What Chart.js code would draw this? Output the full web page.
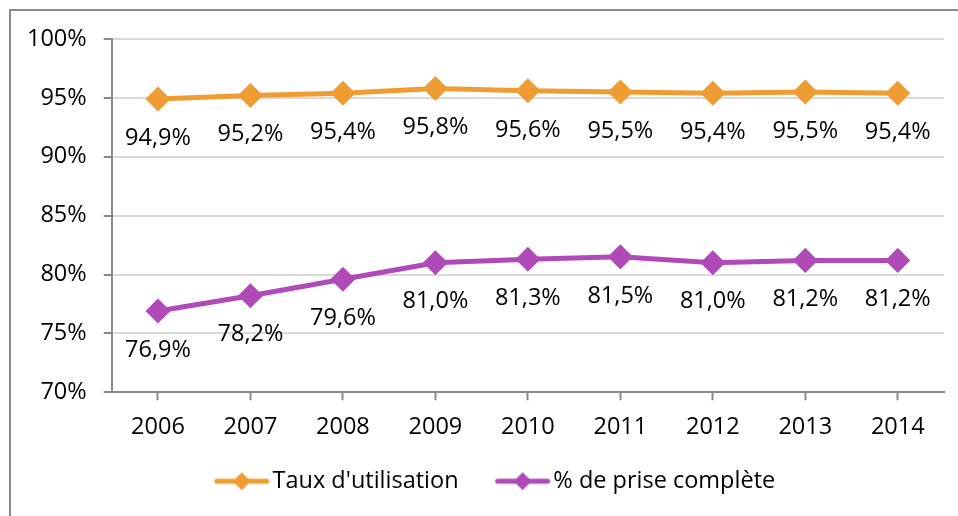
<!DOCTYPE html>
<html>
<head>
<meta charset="utf-8">
<script src="https://cdn.jsdelivr.net/npm/chart.js@4/dist/chart.umd.min.js"></script>
<style>
  html, body { margin: 0; padding: 0; background: #fff; overflow: hidden; }
  #frame { position: absolute; left: 9px; top: 9px; width: 1200px; height: 800px; border: 2px solid #8a8a8a; }
  #wrap { position: absolute; left: 0; top: 0; width: 958px; height: 516px; }
</style>
</head>
<body>
<div id="frame"></div>
<div id="wrap"><canvas id="c"></canvas></div>
<script>
// values
const years = ['2006', '2007', '2008', '2009', '2010', '2011', '2012', '2013', '2014'];
const tauxUtilisation = [94.9, 95.2, 95.4, 95.8, 95.6, 95.5, 95.4, 95.5, 95.4];
const priseComplete = [76.9, 78.2, 79.6, 81.0, 81.3, 81.5, 81.0, 81.2, 81.2];
const seriesNames = ["Taux d'utilisation", '% de prise complète'];

const ORANGE = '#ef9d33';
const PURPLE = '#b04ab8';
const FONT = "'Open Sans', 'Noto Sans', sans-serif";
const FSIZE = 23.5;

// legend swatch: line with a diamond in the middle
// canvas is wider than the legend box so the line can sit next to the text
function swatch(color) {
    const cv = document.createElement('canvas');
    cv.width = 100; cv.height = 20;
    const g = cv.getContext('2d');
    g.strokeStyle = color;
    g.lineWidth = 5;
    g.lineCap = 'round';
    g.beginPath(); g.moveTo(40, 10); g.lineTo(90, 10); g.stroke();
    g.fillStyle = color;
    g.beginPath();
    g.moveTo(65, 1); g.lineTo(74, 10); g.lineTo(65, 19); g.lineTo(56, 10);
    g.closePath(); g.fill();
    return cv;
}

// value labels under each point
const pointLabels = {
    id: 'pointLabels',
    afterDatasetsDraw(chart) {
        const ctx = chart.ctx;
        ctx.save();
        ctx.font = FSIZE + 'px ' + FONT;
        ctx.fillStyle = '#000';
        ctx.textAlign = 'center';
        ctx.textBaseline = 'middle';
        chart.data.datasets.forEach((ds, di) => {
            chart.getDatasetMeta(di).data.forEach((pt, i) => {
                const txt = ds.data[i].toFixed(1).replace('.', ',') + '%';
                ctx.fillText(txt, pt.x, pt.y + 39);
            });
        });
        ctx.restore();
    }
};

// legend sits a bit right of the canvas centre in the original
const shiftLegend = {
    id: 'shiftLegend',
    afterLayout(chart) {
        chart.legend.left += 7;
        chart.legend.right += 7;
    }
};

const ctx = document.getElementById('c').getContext('2d');
new Chart(ctx, {
    type: 'line',
    data: {
        labels: years,
        datasets: [
            {
                label: seriesNames[0],
                data: tauxUtilisation,
                borderColor: ORANGE,
                backgroundColor: ORANGE,
                borderWidth: 5,
                pointStyle: 'rectRot',
                pointRadius: 9,
                pointHoverRadius: 9,
                tension: 0
            },
            {
                label: seriesNames[1],
                data: priseComplete,
                borderColor: PURPLE,
                backgroundColor: PURPLE,
                borderWidth: 5,
                pointStyle: 'rectRot',
                pointRadius: 9,
                pointHoverRadius: 9,
                tension: 0
            }
        ]
    },
    options: {
        responsive: true,
        maintainAspectRatio: false,
        animation: false,
        layout: { padding: { left: 10, right: 14, top: 39, bottom: 13 } },
        plugins: {
            tooltip: { enabled: false },
            legend: {
                position: 'bottom',
                labels: {
                    usePointStyle: true,
                    pointStyleWidth: 68,
                    boxHeight: 20,
                    padding: 15,
                    color: '#000',
                    font: { family: FONT, size: FSIZE },
                    generateLabels(chart) {
                        return chart.data.datasets.map((ds, i) => ({
                            text: ds.label,
                            pointStyle: swatch(ds.borderColor),
                            fillStyle: ds.borderColor,
                            strokeStyle: ds.borderColor,
                            lineWidth: 0,
                            datasetIndex: i,
                            fontColor: '#000'
                        }));
                    }
                }
            }
        },
        scales: {
            x: {
                offset: true,
                grid: { drawOnChartArea: false, tickLength: 8, tickColor: '#8a8a8a', tickWidth: 2 },
                border: { color: '#8a8a8a', width: 2 },
                ticks: { color: '#000', font: { family: FONT, size: FSIZE }, padding: 13, maxRotation: 0 }
            },
            y: {
                min: 70,
                max: 100,
                grid: { color: '#d9d9d9', lineWidth: 2, tickLength: 8, tickColor: '#8a8a8a', tickWidth: 2 },
                border: { color: '#8a8a8a', width: 2 },
                ticks: {
                    stepSize: 5,
                    color: '#000',
                    font: { family: FONT, size: FSIZE },
                    padding: 17,
                    callback: v => v + '%'
                }
            }
        }
    },
    plugins: [pointLabels, shiftLegend]
});
</script>
</body>
</html>
